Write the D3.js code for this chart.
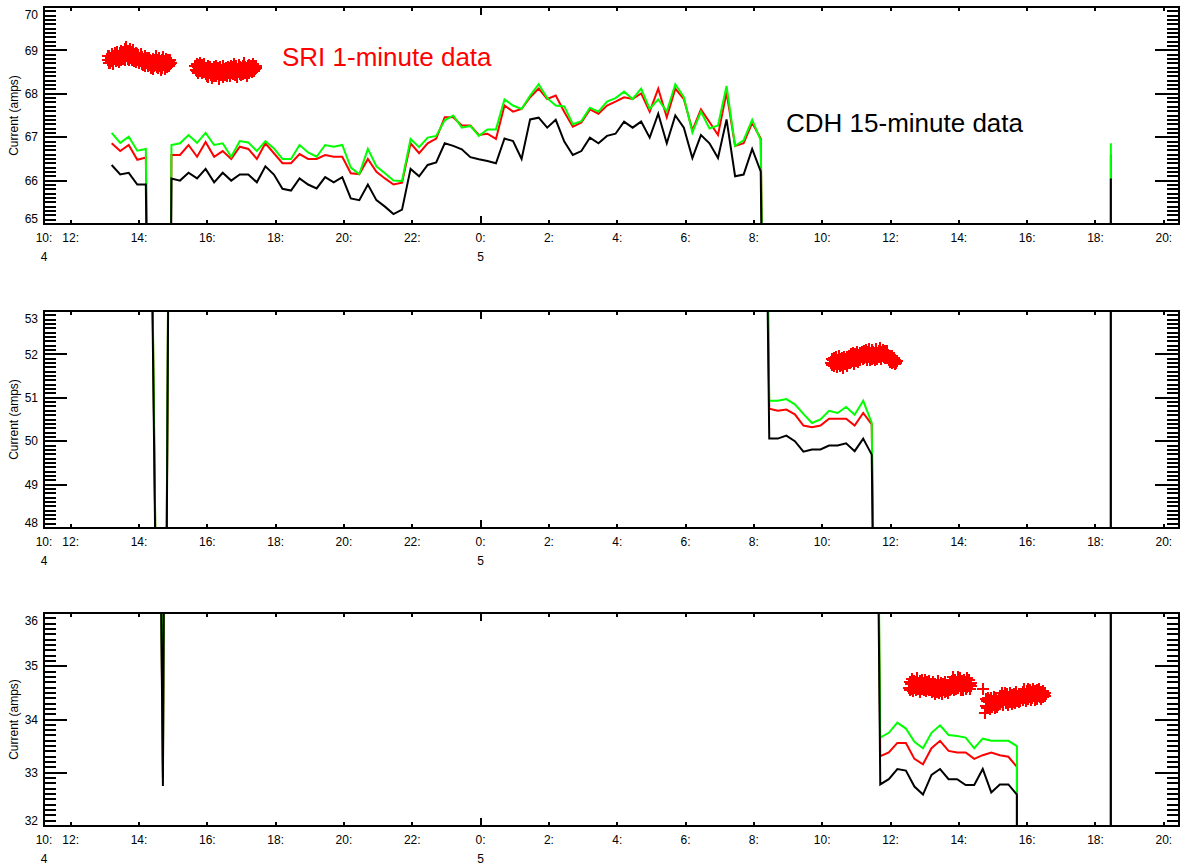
<!DOCTYPE html>
<html><head><meta charset="utf-8">
<script src="https://cdn.jsdelivr.net/npm/d3@7"></script>
<style>
body{margin:0;background:#fff}
text{font-family:"Liberation Sans",Arial,Helvetica,sans-serif}
</style>
</head><body>
<svg id="chart" width="1183" height="867"></svg>
<script>
// ---- CDH 15-minute housekeeping currents (amps) ----
// sample k is taken at cdhStart + k*cdhStep hours after day 4 00:00
const cdhStart = 13.2;
const cdhStep = 0.25;
const FILL = -9999;   // telemetry dropout marker
const cdhBlack = [
  66.36, 66.14, 66.18, 65.91, 65.91, null, 32.75, 66.05, 66.00, 66.18,
  66.05, 66.27, 65.96, 66.18, 66.00, 66.14, 66.14, 65.96, 66.33, 66.14,
  65.81, 65.77, 66.05, 65.91, 65.82, 66.08, 65.96, 66.08, 65.59, 65.55,
  65.91, 65.55, 65.40, 65.23, 65.33, 66.27, 66.10, 66.36, 66.42, 66.86,
  66.80, 66.72, 66.54, 66.49, 66.45, 66.40, 66.97, 66.91, 66.50, 67.41,
  67.45, 67.22, 67.40, 66.90, 66.59, 66.68, 66.99, 66.86, 67.03, 67.08,
  67.36, 67.22, 67.36, 66.99, 67.54, 66.86, 67.50, 67.22, 66.52, 67.05,
  66.86, 66.52, 67.41, 66.10, 66.14, 66.73, 66.21,
  50.06, 50.06, 50.13, 50.00, 49.76, 49.81, 49.81, 49.90, 49.90, 49.95,
  49.77, 50.06, 49.69,
  32.78, 32.88, 33.07, 33.04, 32.74, 32.59, 32.96, 33.07, 32.88, 32.88,
  32.77, 32.77, 33.07, 32.63, 32.78, 32.78, 32.59,
  FILL, FILL, FILL, FILL, FILL, FILL, FILL, FILL, FILL, FILL,
  66.05, FILL
];
const cdhRed = [
  66.86, 66.68, 66.82, 66.48, 66.53, null, 32.90, 66.59, 66.59, 66.82,
  66.55, 66.89, 66.55, 66.68, 66.50, 66.78, 66.73, 66.50, 66.86, 66.63,
  66.40, 66.40, 66.61, 66.50, 66.50, 66.59, 66.55, 66.55, 66.17, 66.15,
  66.50, 66.20, 66.05, 65.91, 65.95, 66.86, 66.63, 66.86, 66.97, 67.46,
  67.46, 67.27, 67.27, 67.05, 67.08, 66.96, 67.73, 67.59, 67.65, 67.92,
  68.12, 67.88, 67.96, 67.58, 67.24, 67.34, 67.64, 67.54, 67.73, 67.82,
  67.92, 67.88, 68.01, 67.59, 68.12, 67.46, 68.12, 67.88, 67.16, 67.64,
  67.35, 67.05, 68.03, 66.80, 66.86, 67.33, 66.97,
  50.75, 50.70, 50.73, 50.62, 50.36, 50.32, 50.36, 50.52, 50.52, 50.52,
  50.36, 50.65, 50.39,
  33.31, 33.38, 33.56, 33.56, 33.26, 33.16, 33.46, 33.60, 33.41, 33.38,
  33.38, 33.26, 33.33, 33.38, 33.33, 33.30, 33.11,
  FILL, FILL, FILL, FILL, FILL, FILL, FILL, FILL, FILL, FILL,
  66.60, FILL
];
const cdhGreen = [
  67.10, 66.87, 67.01, 66.69, 66.73, null, 33.00, 66.82, 66.86, 67.05,
  66.87, 67.10, 66.82, 66.86, 66.55, 66.91, 66.88, 66.68, 66.91, 66.74,
  66.50, 66.50, 66.82, 66.65, 66.55, 66.82, 66.78, 66.82, 66.30, 66.15,
  66.73, 66.33, 66.17, 66.00, 65.99, 66.96, 66.77, 66.99, 67.03, 67.39,
  67.50, 67.22, 67.26, 67.03, 67.18, 67.18, 67.87, 67.73, 67.65, 67.96,
  68.22, 67.90, 67.73, 67.71, 67.30, 67.37, 67.68, 67.59, 67.82, 67.90,
  68.05, 67.88, 68.12, 67.65, 67.87, 67.59, 68.22, 67.92, 67.11, 67.59,
  67.20, 67.27, 68.18, 66.80, 66.93, 67.40, 66.93,
  50.93, 50.93, 50.97, 50.85, 50.63, 50.42, 50.50, 50.70, 50.65, 50.79,
  50.61, 50.93, 50.42,
  33.66, 33.75, 33.94, 33.83, 33.58, 33.46, 33.75, 33.89, 33.71, 33.69,
  33.66, 33.46, 33.64, 33.60, 33.60, 33.60, 33.50,
  FILL, FILL, FILL, FILL, FILL, FILL, FILL, FILL, FILL, FILL,
  66.86, FILL
];

// ---- SRI 1-minute samples (amps), one array per contiguous pass ----
// start of each pass in hours after day 4 00:00
const sriStarts = [13 + 5/60, 15 + 39/60, 34 + 16/60, 36 + 33/60, 38 + 43/60];
const sriPass1 = [
  68.78, 68.86, 68.72, 68.88, 68.70, 68.83, 68.75, 68.91, 68.79, 68.84, 68.68, 68.87,
  68.80, 68.93, 68.76, 68.89, 68.78, 68.97, 68.82, 68.88, 68.73, 68.94, 68.85, 68.77, 68.99, 68.86,
  68.92, 68.81, 68.97, 68.84, 69.03, 68.79, 68.93, 69.08, 68.86, 68.80,
  68.98, 68.78, 68.91, 69.04, 68.83, 68.95, 68.77, 68.89, 69.01, 68.82,
  68.90, 68.76, 68.88, 68.95, 68.73, 68.84, 68.92, 68.78, 68.87, 68.71, 68.83, 68.79, 68.91,
  68.80, 68.68, 68.84, 68.66, 68.79, 68.72, 68.87, 68.63, 68.78, 68.70, 68.83, 68.65, 68.76, 68.82, 68.69,
  68.66, 68.78, 68.60, 68.74, 68.68, 68.81, 68.57, 68.72, 68.64, 68.77,
  68.88, 68.67, 68.61, 68.79, 68.59, 68.75, 68.65, 68.82, 68.63, 68.55,
  68.73, 68.78, 68.60, 68.70, 68.84, 68.66, 68.58, 68.76, 68.69, 68.80,
  68.62, 68.72, 68.77, 68.64, 68.75, 68.68, 68.79, 68.70
];
const sriPass2 = [
  68.64, 68.55, 68.69, 68.53, 68.62, 68.49, 68.67, 68.57, 68.72, 68.52, 68.61, 68.47, 68.66, 68.56,
  68.63, 68.51, 68.68,
  68.57, 68.46, 68.60, 68.42, 68.54, 68.63, 68.38, 68.56, 68.48, 68.61, 68.44, 68.52, 68.36, 68.58,
  68.47, 68.62, 68.41, 68.55, 68.49, 68.64, 68.40, 68.53, 68.59, 68.45, 68.57, 68.35, 68.50, 68.61,
  68.43, 68.55, 68.48, 68.63, 68.39, 68.52, 68.58, 68.44, 68.60, 68.50, 68.42, 68.56,
  68.54, 68.62, 68.47, 68.59, 68.40, 68.56, 68.65, 68.49, 68.61, 68.45, 68.55, 68.68, 68.44, 68.60,
  68.51, 68.63, 68.39, 68.57, 68.50, 68.66, 68.54, 68.46, 68.62, 68.43, 68.59, 68.52, 68.65, 68.45,
  68.57, 68.70, 68.49, 68.61, 68.54, 68.41, 68.60, 68.64, 68.51, 68.67, 68.47, 68.59, 68.55, 68.65,
  68.50, 68.62, 68.56, 68.69, 68.52, 68.63, 68.58, 68.64, 68.60
];
const sriPass3 = [
  51.80, 51.89, 51.75, 51.87, 51.73, 51.91, 51.82, 51.77, 51.93, 51.84, 51.71, 51.88, 51.79, 51.96,
  51.81, 51.74, 51.90, 51.85, 51.76, 51.92, 51.69, 51.87, 51.80, 51.94, 51.78, 51.89, 51.83, 51.74,
  51.95, 51.86,
  51.85, 51.97, 51.81, 51.93, 52.00, 51.83, 51.95, 51.87, 52.04, 51.79, 51.96, 51.89, 52.02, 51.84,
  51.98, 51.91, 52.06, 51.82, 51.95, 51.99, 51.88, 52.03, 51.93,
  51.94, 52.05, 51.89, 52.01, 52.08, 51.91, 52.02, 51.95, 52.11, 51.87, 52.00, 52.06, 51.93, 52.13,
  51.97, 51.88, 52.04, 51.94, 52.09, 51.90, 52.00, 52.06, 51.92, 52.03, 51.86, 52.12, 51.97, 52.04,
  51.90, 52.01, 52.07, 51.95, 52.14, 51.93, 52.02, 51.89, 52.05, 51.97, 52.10, 51.94, 52.00, 52.07,
  51.91, 52.03, 51.95, 52.08, 51.97,
  51.97, 51.87, 51.94, 51.83, 51.96, 51.89, 51.80, 51.93, 51.86, 51.82, 51.91, 51.79, 51.87, 51.83,
  51.80, 51.85
];
const sriPass4 = [
  34.60, 34.71, 34.56, 34.67, 34.76, 34.58, 34.69, 34.53, 34.65, 34.73, 34.60, 34.55, 34.70, 34.62,
  34.78, 34.57, 34.67, 34.59, 34.72, 34.51, 34.64, 34.69, 34.58, 34.75, 34.62, 34.56, 34.68, 34.60,
  34.74, 34.54, 34.65, 34.70, 34.57, 34.63, 34.72, 34.56, 34.67, 34.61,
  34.56, 34.66, 34.51, 34.63, 34.71, 34.54, 34.62, 34.48, 34.67, 34.58, 34.52, 34.65, 34.56, 34.73,
  34.50, 34.61, 34.64, 34.54, 34.68, 34.47, 34.59, 34.66, 34.55, 34.63, 34.52, 34.70, 34.59, 34.53,
  34.65, 34.61, 34.49, 34.64, 34.58, 34.69, 34.56,
  34.68, 34.58, 34.73, 34.63, 34.79, 34.55, 34.69, 34.61, 34.75, 34.57, 34.71, 34.64, 34.80, 34.59,
  34.68, 34.62, 34.77, 34.55, 34.66, 34.73, 34.60, 34.69, 34.56, 34.75, 34.63, 34.71, 34.58, 34.66,
  34.77, 34.61, 34.69, 34.63, 34.74, 34.57, 34.67, 34.62, 34.68
];
const sriPass5 = [
  34.57, null, null, 34.12,
  34.26, 34.38, 34.22, 34.34, 34.41, 34.25, 34.32, 34.19, 34.36, 34.28, 34.40, 34.23, 34.35, 34.27,
  34.43, 34.29, 34.21, 34.37, 34.31, 34.40, 34.24, 34.34, 34.28, 34.38,
  34.34, 34.44, 34.30, 34.42, 34.49, 34.32, 34.39, 34.27, 34.45, 34.36, 34.50, 34.31, 34.41, 34.35,
  34.47, 34.28, 34.38, 34.43, 34.32, 34.49, 34.36, 34.41, 34.29, 34.46, 34.38, 34.33, 34.47, 34.31,
  34.43, 34.36, 34.51, 34.34, 34.40, 34.45, 34.32, 34.38, 34.48, 34.35, 34.43, 34.40,
  34.42, 34.52, 34.37, 34.49, 34.57, 34.40, 34.47, 34.35, 34.53, 34.44, 34.58, 34.39, 34.49, 34.42,
  34.55, 34.36, 34.46, 34.51, 34.40, 34.57, 34.44, 34.48, 34.37, 34.53, 34.46, 34.41, 34.55, 34.39,
  34.50, 34.44, 34.58, 34.42, 34.48, 34.52, 34.39, 34.46, 34.54, 34.43, 34.50, 34.46, 34.49, 34.44
];
const sriPasses = [sriPass1, sriPass2, sriPass3, sriPass4, sriPass5];

// ---- axes ----
const timeRange = [11.219, 44.445];          // hours after day 4 00:00
const hourTicks = [12, 14, 16, 18, 20, 22, 24, 26, 28, 30, 32, 34, 36, 38, 40, 42, 44];
const hourLabels = ["12:", "14:", "16:", "18:", "20:", "22:", "0:", "2:", "4:", "6:", "8:",
                    "10:", "12:", "14:", "16:", "18:", "20:"];
const firstLabel = "10:";
const dayLabels = ["4", "5"];
const dayTicks = [timeRange[0], 24];
const panelRanges = [[65, 70], [48, 53], [32, 36]];
const yTitle = "Current (amps)";

// ---- layout ----
const left = 44, right = 1179;
const panelBoxes = [[7, 224], [311, 528], [613, 826]];

const svg = d3.select("#chart");
const x = d3.scaleLinear().domain(timeRange).range([left, right]);

const cdhRows = cdhBlack.map((v, k) => ({
  t: cdhStart + k * cdhStep, black: v, red: cdhRed[k], green: cdhGreen[k]
})).filter(d => d.black !== null);

const sriRows = [];
sriPasses.forEach((vals, p) => {
  vals.forEach((v, i) => {
    if (v !== null) sriRows.push({ t: sriStarts[p] + i / 60, v });
  });
});

panelBoxes.forEach(([top, bottom], pi) => {
  const [lo, hi] = panelRanges[pi];
  const y = d3.scaleLinear().domain([lo, hi]).range([bottom, top]);
  const g = svg.append("g");

  const clipId = "clip" + pi;
  svg.append("clipPath").attr("id", clipId)
    .append("rect").attr("x", left).attr("y", top)
    .attr("width", right - left).attr("height", bottom - top);

  const plot = g.append("g").attr("clip-path", `url(#${clipId})`);

  // series lines: red, green, then black on top
  [["red", "#ff0000"], ["green", "#00ff00"], ["black", "#000000"]].forEach(([key, col]) => {
    const line = d3.line().x(d => x(d.t)).y(d => y(d[key]));
    plot.append("path").datum(cdhRows)
      .attr("d", line)
      .attr("fill", "none")
      .attr("stroke", col)
      .attr("stroke-width", 2)
      .attr("stroke-linejoin", "miter");
  });

  // SRI 1-minute points as plus symbols
  plot.append("g").attr("shape-rendering", "crispEdges")
    .selectAll("path").data(sriRows).join("path")
    .attr("transform", d => `translate(${x(d.t)},${y(d.v)})`)
    .attr("d", "M-6,0H6M0,-6V6")
    .attr("stroke", "#ff0000")
    .attr("stroke-width", 2)
    .attr("fill", "none");

  // frame
  g.append("rect").attr("x", left).attr("y", top)
    .attr("width", right - left).attr("height", bottom - top)
    .attr("fill", "none").attr("stroke", "#000").attr("stroke-width", 2)
    .attr("shape-rendering", "crispEdges");

  // y ticks: major every 1 A, minor every 0.1 A on both sides
  const minor = d3.range(Math.round(lo * 10), Math.round(hi * 10) + 1).map(v => v / 10);
  const major = d3.range(lo, hi + 1);
  const tk = g.append("g").attr("stroke", "#000").attr("stroke-width", 2)
    .attr("shape-rendering", "crispEdges");
  minor.forEach(v => {
    tk.append("line").attr("x1", left).attr("x2", left + 12).attr("y1", y(v)).attr("y2", y(v));
    tk.append("line").attr("x1", right).attr("x2", right - 12).attr("y1", y(v)).attr("y2", y(v));
  });
  major.forEach(v => {
    tk.append("line").attr("x1", left).attr("x2", left + 23).attr("y1", y(v)).attr("y2", y(v));
    tk.append("line").attr("x1", right).attr("x2", right - 24).attr("y1", y(v)).attr("y2", y(v));
  });

  // y tick labels (end labels nudged inside the frame)
  g.append("g").selectAll("text").data(major).join("text")
    .attr("x", 38)
    .attr("y", v => y(v) + (v === hi ? 8 : v === lo ? -5 : 0))
    .attr("dy", "0.35em")
    .attr("text-anchor", "end")
    .attr("font-size", 12)
    .text(v => v);

  // y title
  g.append("text")
    .attr("transform", `translate(14,${(top + bottom) / 2}) rotate(-90)`)
    .attr("text-anchor", "middle")
    .attr("dy", "0.35em")
    .attr("font-size", 12)
    .text(yTitle);

  // x ticks on bottom and top edges
  hourTicks.forEach(h => {
    const len = h === 24 ? 8 : 4;
    tk.append("line").attr("x1", x(h)).attr("x2", x(h)).attr("y1", bottom).attr("y2", bottom - len);
    tk.append("line").attr("x1", x(h)).attr("x2", x(h)).attr("y1", top).attr("y2", top + len);
  });

  // x labels
  const xl = g.append("g").attr("font-size", 12).attr("text-anchor", "middle");
  xl.append("text").attr("x", x(timeRange[0])).attr("y", bottom + 18).text(firstLabel);
  hourTicks.forEach((h, i) => {
    xl.append("text").attr("x", x(h)).attr("y", bottom + 18).text(hourLabels[i]);
  });
  dayTicks.forEach((h, i) => {
    xl.append("text").attr("x", x(h)).attr("y", bottom + 37).text(dayLabels[i]);
  });

  if (pi === 0) {
    g.append("text").attr("x", 282).attr("y", 66).attr("font-size", 26)
      .attr("fill", "#ff0000").text("SRI 1-minute data");
    g.append("text").attr("x", 786).attr("y", 132).attr("font-size", 26)
      .attr("fill", "#000").text("CDH 15-minute data");
  }
});
</script>
</body></html>
